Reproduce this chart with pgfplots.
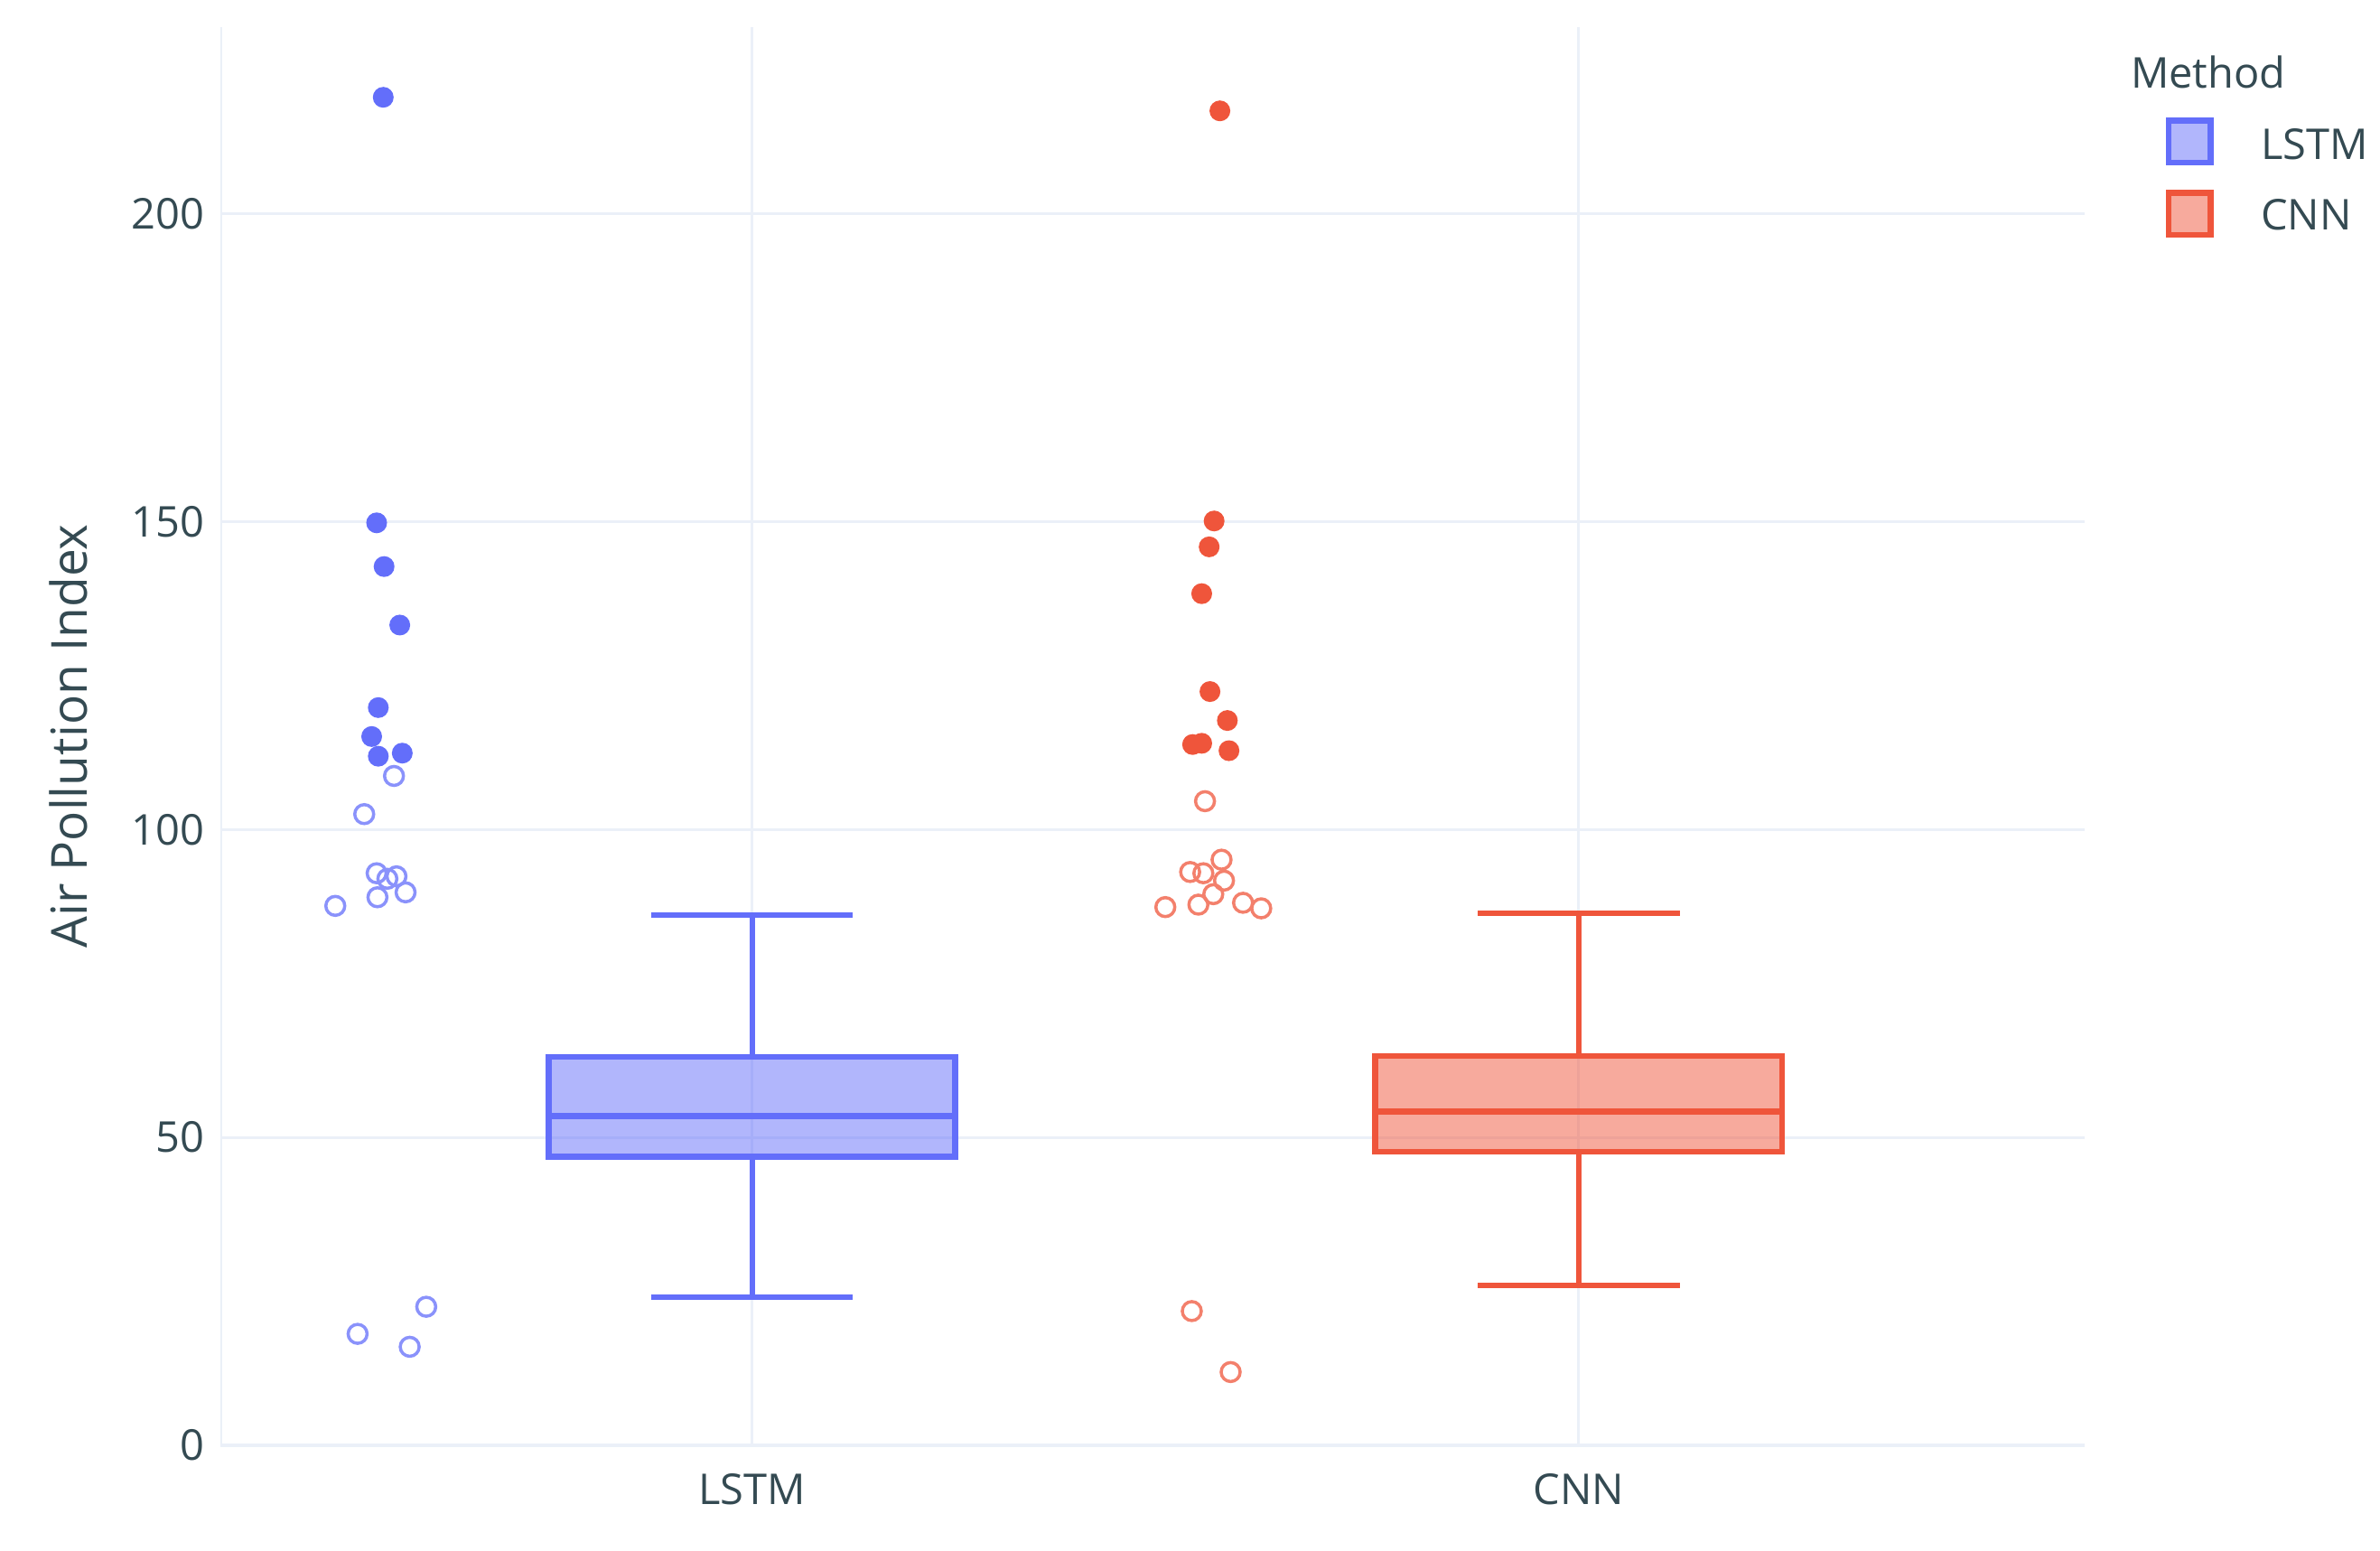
\documentclass[border=0pt]{standalone}
\usepackage{pgfplots}
\pgfplotsset{compat=1.18}
\usepackage{fontspec}
\setmainfont{Open Sans}
\definecolor{lstm}{HTML}{636EFA}
\definecolor{cnn}{HTML}{EF553B}
\definecolor{gridc}{HTML}{EBF0F8}
\definecolor{txt}{HTML}{344A52}

\begin{document}
\begin{tikzpicture}
\path[use as bounding box] (-48.8pt,-23.2pt) rectangle (478.2pt,320pt);
\begin{axis}[
  at={(0,0)}, anchor=south west,
  scale only axis, width=412.8pt, height=314pt,
  xmin=-0.643, xmax=1.612, ymin=0, ymax=230.3,
  xtick={0,1}, xticklabels={LSTM,CNN},
  ytick={0,50,...,200},
  grid=major, grid style={gridc, line width=0.6pt},
  axis line style={draw=none},
  major tick length=0,
  tick label style={font=\fontsize{9.4}{11}\selectfont, text=txt},
  /pgf/number format/assume math mode=true,
  xticklabel style={yshift=-2.8pt},
  every axis y label/.style={at={(axis description cs:-0.0816,0.5)}, rotate=90, anchor=center},
  ylabel={Air Pollution Index},
  ylabel style={font=\fontsize{11}{13}\selectfont, text=txt},
  line join=miter,
]
% lines along the left edge and at zero
\draw[gridc, line width=0.8pt] (rel axis cs:0,0) -- (rel axis cs:0,1);
\draw[gridc, line width=0.8pt] (rel axis cs:0,0) -- (rel axis cs:1,0);

% LSTM box: q1 46.9, median 53.5, q3 63.1, whiskers 24.0 / 86.1
\addplot[draw=lstm, line width=1.3pt, fill=lstm, fill opacity=0.5]
  coordinates {(-0.246,46.9) (0.246,46.9) (0.246,63.1) (-0.246,63.1)} -- cycle;
\addplot[lstm, line width=1.3pt] coordinates {(-0.246,53.5) (0.246,53.5)};
\addplot[lstm, line width=1.2pt] coordinates {(0,63.1) (0,86.1)};
\addplot[lstm, line width=1.2pt] coordinates {(0,46.9) (0,24.0)};
\addplot[lstm, line width=1.2pt] coordinates {(-0.122,86.1) (0.122,86.1)};
\addplot[lstm, line width=1.2pt] coordinates {(-0.122,24.0) (0.122,24.0)};
\addplot[only marks, mark=*, mark size=2.1pt, color=lstm] coordinates {
  (-0.446,218.9) (-0.454,149.8) (-0.445,142.7) (-0.426,133.2)
  (-0.452,119.8) (-0.460,115.1) (-0.452,111.9) (-0.423,112.4)
};
\addplot[only marks, mark=o, mark size=2.1pt, line width=0.7pt, color=lstm!75] coordinates {
  (-0.433,108.7) (-0.469,102.5) (-0.454,92.9) (-0.430,92.4) (-0.441,92.0)
  (-0.453,89.0) (-0.419,89.8) (-0.504,87.6)
  (-0.394,22.5) (-0.477,18.1) (-0.414,16.0)
};

% CNN box: q1 47.7, median 54.2, q3 63.2, whiskers 26.0 / 86.4
\addplot[draw=cnn, line width=1.3pt, fill=cnn, fill opacity=0.5]
  coordinates {(0.754,47.7) (1.246,47.7) (1.246,63.2) (0.754,63.2)} -- cycle;
\addplot[cnn, line width=1.3pt] coordinates {(0.754,54.2) (1.246,54.2)};
\addplot[cnn, line width=1.2pt] coordinates {(1,63.2) (1,86.4)};
\addplot[cnn, line width=1.2pt] coordinates {(1,47.7) (1,26.0)};
\addplot[cnn, line width=1.2pt] coordinates {(0.878,86.4) (1.122,86.4)};
\addplot[cnn, line width=1.2pt] coordinates {(0.878,26.0) (1.122,26.0)};
\addplot[only marks, mark=*, mark size=2.1pt, color=cnn] coordinates {
  (0.566,216.7) (0.559,150.1) (0.553,145.9) (0.544,138.3) (0.554,122.4)
  (0.575,117.7) (0.533,113.8) (0.544,114.0) (0.577,112.8)
};
\addplot[only marks, mark=o, mark size=2.1pt, line width=0.7pt, color=cnn!75] coordinates {
  (0.548,104.6) (0.568,95.1) (0.530,93.1) (0.546,92.9) (0.571,91.7)
  (0.558,89.5) (0.540,87.8) (0.500,87.4) (0.594,88.1) (0.616,87.2)
  (0.532,21.8) (0.579,11.9)
};
\end{axis}

% legend
\node[anchor=west, inner sep=0, text=txt, font=\fontsize{9.4}{11}\selectfont] at (422.8pt,304pt) {Method};
\draw[lstm, line width=1.3pt, fill=lstm, fill opacity=0.5] (431.35pt,283.95pt) rectangle (440.65pt,293.25pt);
\draw[cnn, line width=1.3pt, fill=cnn, fill opacity=0.5] (431.35pt,267.95pt) rectangle (440.65pt,277.25pt);
\node[anchor=west, inner sep=0, text=txt, font=\fontsize{9.4}{11}\selectfont] at (451.6pt,288pt) {LSTM};
\node[anchor=west, inner sep=0, text=txt, font=\fontsize{9.4}{11}\selectfont] at (451.6pt,272.4pt) {CNN};
\end{tikzpicture}
\end{document}
